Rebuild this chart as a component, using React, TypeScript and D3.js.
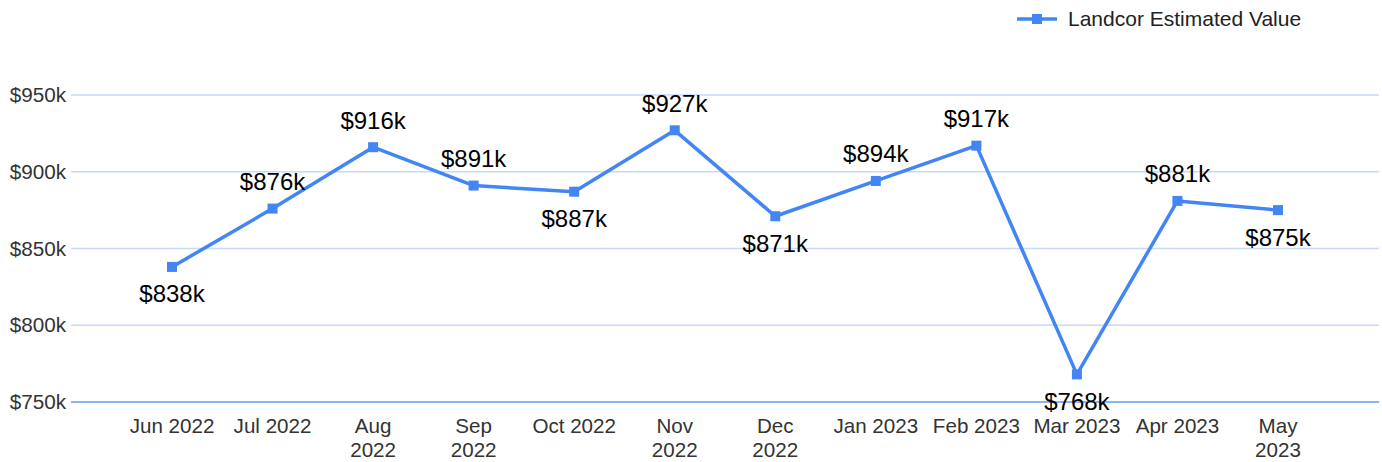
import React from "react";
import * as d3 from "d3";

const months = ["Jun 2022","Jul 2022","Aug 2022","Sep 2022","Oct 2022","Nov 2022","Dec 2022","Jan 2023","Feb 2023","Mar 2023","Apr 2023","May 2023"];
const tickLines = [["Jun 2022"],["Jul 2022"],["Aug","2022"],["Sep","2022"],["Oct 2022"],["Nov","2022"],["Dec","2022"],["Jan 2023"],["Feb 2023"],["Mar 2023"],["Apr 2023"],["May","2023"]];
const values = [838, 876, 916, 891, 887, 927, 871, 894, 917, 768, 881, 875];
const labelAbove = [false, true, true, true, false, true, false, true, true, false, true, false];
const yTicks = [750, 800, 850, 900, 950];
const seriesName = "Landcor Estimated Value";

const W = 1382, H = 462;
const BLUE = "#4285f4";
const FONT = "Arial, 'Liberation Sans', sans-serif";

export default function App() {
  const x = d3.scalePoint<string>().domain(months).range([172, 1278]);
  const y = d3.scaleLinear().domain([750, 950]).range([402, 95]);
  const line = d3.line<number>().x((_, i) => x(months[i])!).y(d => y(d));
  return (
    <svg width={W} height={H} style={{ position: "absolute", left: 0, top: 0 }} fontFamily={FONT}>
      {yTicks.map(t => (
        <g key={t}>
          <line x1={71} x2={1379} y1={y(t)} y2={y(t)} stroke={t === 750 ? "#8ab4f8" : "#c6dafc"} strokeWidth={t === 750 ? 2 : 1.5} />
          <text x={66} y={y(t)} dy="0.35em" textAnchor="end" fontSize={20.7} fill="#333">{"$" + t + "k"}</text>
        </g>
      ))}
      {tickLines.map((ls, i) => (
        <text key={i} x={x(months[i])} y={426} textAnchor="middle" fontSize={20.6} fill="#333">
          {ls.map((l, j) => <tspan key={j} x={x(months[i])} y={426 + j * 24} dy="0.35em">{l}</tspan>)}
        </text>
      ))}
      <path d={line(values)!} fill="none" stroke={BLUE} strokeWidth={3.5} strokeLinejoin="round" />
      {values.map((v, i) => (
        <rect key={i} x={x(months[i])! - 5} y={y(v) - 5} width={10} height={10} fill={BLUE} />
      ))}
      {values.map((v, i) => (
        <text key={"l" + i} x={x(months[i])} y={y(v) + (labelAbove[i] ? -27 : 27)} dy="0.35em" textAnchor="middle" fontSize={24} fill="#000">{"$" + v + "k"}</text>
      ))}
      <g>
        <line x1={1017} x2={1057} y1={19} y2={19} stroke={BLUE} strokeWidth={3.5} />
        <rect x={1032} y={14} width={10} height={10} fill={BLUE} />
        <text x={1068} y={19} dy="0.35em" fontSize={21} fill="#222">{seriesName}</text>
      </g>
    </svg>
  );
}
